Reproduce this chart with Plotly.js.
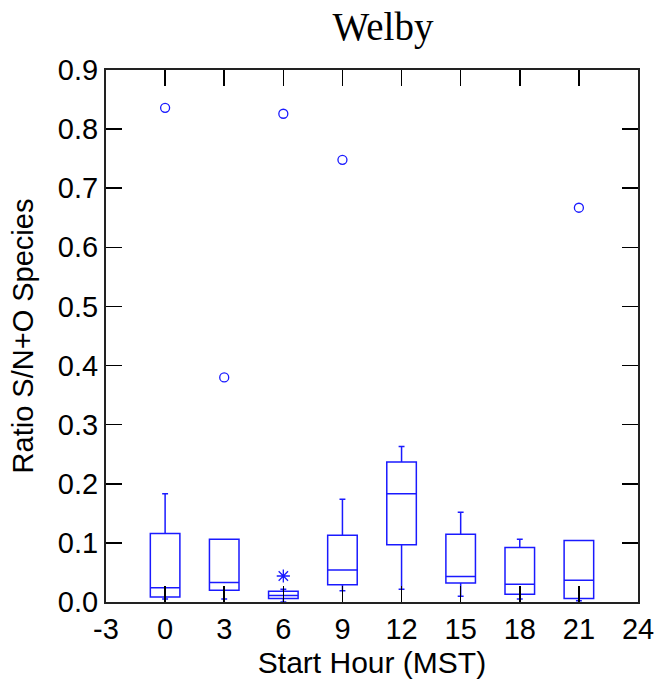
<!DOCTYPE html>
<html>
<head>
<meta charset="utf-8">
<script src="https://cdn.plot.ly/plotly-3.0.1.min.js"></script>
<style>html,body{margin:0;padding:0;background:#fff;}#chart{width:659px;height:692px;}</style>
</head>
<body>
<div id="chart"></div>
<script>
const hours = [0, 3, 6, 9, 12, 15, 18, 21];
const q1Values = [0.0085, 0.020, 0.006, 0.029, 0.097, 0.032, 0.013, 0.006];
const medianValues = [0.024, 0.033, 0.011, 0.054, 0.183, 0.043, 0.030, 0.037];
const q3Values = [0.116, 0.106, 0.018, 0.113, 0.237, 0.1145, 0.092, 0.104];
const lowerWhisker = [0.005, 0.005, 0.0, 0.019, 0.0215, 0.0096, 0.005, 0.002];
const upperWhisker = [0.183, 0.106, 0.0215, 0.174, 0.263, 0.152, 0.106, 0.104];
const outlierHours = [0, 3, 6, 9, 21];
const outlierValues = [0.836, 0.380, 0.826, 0.748, 0.667];
const extremeHours = [6];
const extremeValues = [0.044];
const xTicks = [-3, 0, 3, 6, 9, 12, 15, 18, 21, 24];

const blue = '#1a1aff';
const traces = [
  {
    type: 'box',
    x: hours,
    q1: q1Values,
    median: medianValues,
    q3: q3Values,
    lowerfence: lowerWhisker,
    upperfence: upperWhisker,
    boxpoints: false,
    width: 1.5,
    whiskerwidth: 0.2,
    line: {color: blue, width: 1.5},
    fillcolor: 'rgba(255,255,255,0)',
    showlegend: false,
    hoverinfo: 'skip'
  },
  {
    type: 'scatter',
    mode: 'markers',
    x: outlierHours,
    y: outlierValues,
    marker: {symbol: 'circle-open', size: 9, color: blue, line: {width: 1.3, color: blue}},
    showlegend: false
  },
  {
    type: 'scatter',
    mode: 'markers',
    x: extremeHours,
    y: extremeValues,
    marker: {symbol: 'asterisk-open', size: 11, color: blue, line: {width: 1.3, color: blue}},
    showlegend: false
  }
];

const axisFont = {family: 'Liberation Sans, Arial, sans-serif', size: 29, color: '#000'};
const layout = {
  width: 659,
  height: 692,
  margin: {l: 106, r: 21, t: 70, b: 90},
  paper_bgcolor: '#fff',
  plot_bgcolor: '#fff',
  title: {
    text: 'Welby',
    font: {family: 'Liberation Serif, Times New Roman, serif', size: 39, color: '#000'},
    x: 383 / 659,
    xanchor: 'center',
    xref: 'container',
    yref: 'container',
    y: 1 - 26 / 692,
    yanchor: 'middle'
  },
  xaxis: {
    range: [-3, 24],
    tickmode: 'array',
    tickvals: xTicks,
    ticktext: xTicks.map(String),
    ticks: 'inside',
    ticklen: 16,
    tickwidth: 1.5,
    tickcolor: '#000',
    showline: true,
    linecolor: '#222',
    linewidth: 2,
    mirror: 'ticks',
    showgrid: false,
    zeroline: false,
    tickfont: axisFont,
    title: {text: 'Start Hour (MST)', font: {family: 'Liberation Sans, Arial, sans-serif', size: 30, color: '#000'}, standoff: 8}
  },
  yaxis: {
    range: [0, 0.9],
    dtick: 0.1,
    tick0: 0,
    tickformat: '.1f',
    ticks: 'inside',
    ticklen: 16,
    tickwidth: 1.5,
    tickcolor: '#000',
    showline: true,
    linecolor: '#222',
    linewidth: 2,
    mirror: 'ticks',
    showgrid: false,
    zeroline: false,
    tickfont: axisFont,
    title: {text: 'Ratio S/N+O Species', font: {family: 'Liberation Sans, Arial, sans-serif', size: 29, color: '#000'}, standoff: 16}
  }
};

Plotly.newPlot('chart', traces, layout, {displayModeBar: false, staticPlot: true});
</script>
</body>
</html>
